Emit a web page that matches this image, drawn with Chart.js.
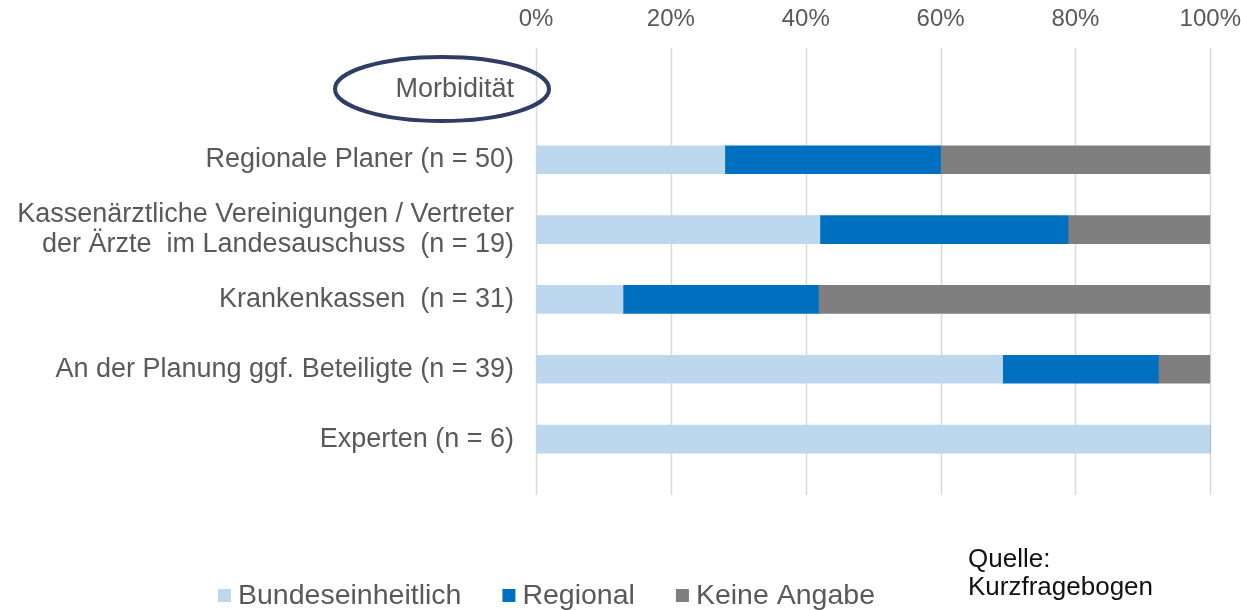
<!DOCTYPE html>
<html>
<head>
<meta charset="utf-8">
<script src="https://cdn.jsdelivr.net/npm/chart.js@4.4.0/dist/chart.umd.min.js"></script>
<style>
  html, body { margin: 0; padding: 0; background: #fff; }
  #wrap { width: 1241px; height: 610px; position: relative; }
</style>
</head>
<body>
<div id="wrap"><canvas id="morbChart"></canvas></div>
<script>
var categories = [
    'Morbidität',
    'Regionale Planer (n = 50)',
    ['Kassenärztliche Vereinigungen / Vertreter', 'der Ärzte  im Landesauschuss  (n = 19)'],
    'Krankenkassen  (n = 31)',
    'An der Planung ggf. Beteiligte (n = 39)',
    'Experten (n = 6)'
];
var bundeseinheitlich = [null, 28, 42.1, 12.9, 69.2, 100];
var regional = [null, 32, 36.8, 29.0, 23.1, 0];
var keineAngabe = [null, 40, 21.1, 58.1, 7.7, 0];
var seriesNames = ['Bundeseinheitlich', 'Regional', 'Keine Angabe'];
var xTickLabels = ['0%', '20%', '40%', '60%', '80%', '100%'];
var sourceLines = ['Quelle:', 'Kurzfragebogen'];

var FONT = '"Liberation Sans", Arial, sans-serif';

// gridlines a bit longer than the plot area, legend, ellipse and source note
var extras = {
    id: 'extras',
    beforeDatasetsDraw: function (chart) {
        var ctx = chart.ctx, area = chart.chartArea, xs = chart.scales.x;
        ctx.save();
        ctx.strokeStyle = '#d9d9d9';
        ctx.lineWidth = 1.5;
        xs.ticks.forEach(function (t) {
            var px = Math.round(xs.getPixelForValue(t.value)) + 0.5;
            ctx.beginPath();
            ctx.moveTo(px, area.top - 7);
            ctx.lineTo(px, area.bottom + 21);
            ctx.stroke();
        });
        ctx.restore();
    },
    afterDraw: function (chart) {
        var ctx = chart.ctx, ys = chart.scales.y;
        ctx.save();
        // ellipse round the Morbidität label
        var cy = ys.getPixelForValue(0);
        ctx.strokeStyle = '#2f3c66';
        ctx.lineWidth = 4;
        ctx.beginPath();
        ctx.ellipse(442, cy - 1, 107, 32, 0, 0, Math.PI * 2);
        ctx.stroke();

        // legend
        ctx.font = '28.5px ' + FONT;
        ctx.textBaseline = 'middle';
        var x = 218, y = 596;
        chart.data.datasets.forEach(function (ds) {
            ctx.fillStyle = ds.backgroundColor;
            ctx.fillRect(x, y - 7, 13, 13);
            x += 20;
            ctx.fillStyle = '#595959';
            ctx.fillText(ds.label, x, y);
            x += ctx.measureText(ds.label).width + 41;
        });

        // source
        ctx.fillStyle = '#111';
        ctx.font = '26px ' + FONT;
        ctx.textBaseline = 'alphabetic';
        sourceLines.forEach(function (s, i) {
            ctx.fillText(s, 968, 567 + i * 28);
        });
        ctx.restore();
    }
};

var ctx = document.getElementById('morbChart').getContext('2d');
var morbChart = new Chart(ctx, {
    type: 'bar',
    data: {
        labels: categories,
        datasets: [
            { label: seriesNames[0], data: bundeseinheitlich, backgroundColor: '#bdd7ee', barThickness: 28 },
            { label: seriesNames[1], data: regional, backgroundColor: '#0070c0', barThickness: 28 },
            { label: seriesNames[2], data: keineAngabe, backgroundColor: '#7f7f7f', barThickness: 28 }
        ]
    },
    options: {
        indexAxis: 'y',
        responsive: true,
        maintainAspectRatio: false,
        animation: false,
        layout: { padding: { left: 0, right: 4, top: 0, bottom: 136 } },
        plugins: {
            legend: { display: false },
            tooltip: { enabled: false }
        },
        scales: {
            x: {
                position: 'top',
                stacked: true,
                min: 0,
                max: 100,
                grid: { display: false, drawTicks: false },
                border: { display: false },
                ticks: {
                    stepSize: 20,
                    padding: 0,
                    color: '#595959',
                    // tall line box puts the labels up at the top edge
                    font: { family: FONT, size: 24, lineHeight: 3 },
                    callback: function (v, i) { return xTickLabels[i]; }
                },
                afterFit: function (scale) { scale.height = 55; }
            },
            y: {
                stacked: true,
                grid: { display: false, drawTicks: false },
                border: { display: false },
                ticks: {
                    padding: 22,
                    color: '#595959',
                    font: { family: FONT, size: 27, lineHeight: 1.1 }
                },
                afterFit: function (scale) { scale.width = 536; }
            }
        }
    },
    plugins: [extras]
});
</script>
</body>
</html>
